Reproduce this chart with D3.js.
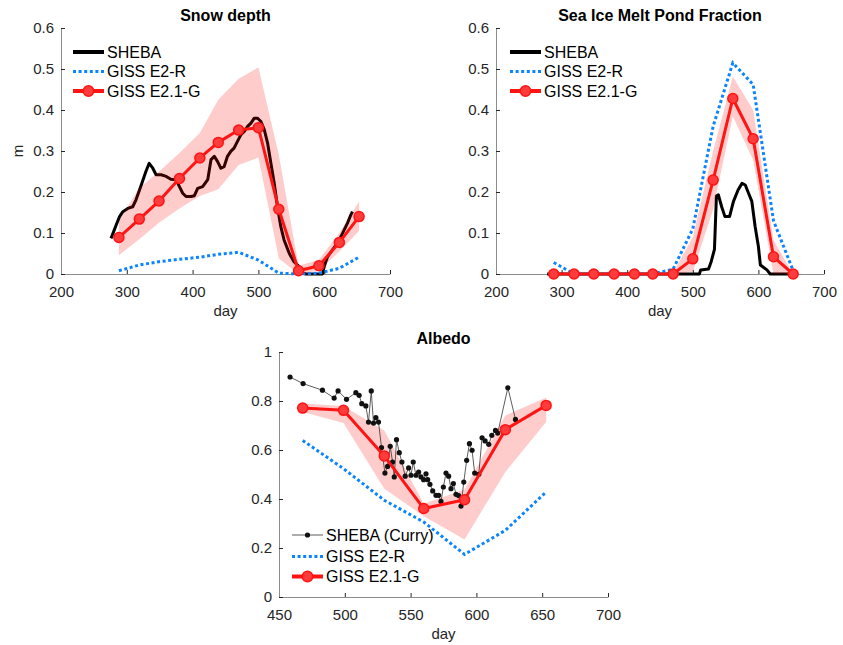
<!DOCTYPE html>
<html>
<head>
<meta charset="utf-8">
<script src="https://cdn.jsdelivr.net/npm/d3@7"></script>
<style>
  body { margin: 0; background: #fff; }
  text { font-family: "Liberation Sans", Arial, sans-serif; }
</style>
</head>
<body>
<div class="container"></div>
<script>
// model output: monthly means
var modelDays = [288, 319, 349, 380, 411, 439, 470, 500, 531, 561, 592, 623, 653];

var snowE21 = [0.089, 0.134, 0.178, 0.233, 0.283, 0.321, 0.351, 0.357, 0.158, 0.008, 0.020, 0.077, 0.140];
var snowE21Hi = [0.13, 0.21, 0.25, 0.295, 0.344, 0.425, 0.476, 0.504, 0.29, 0.02, 0.035, 0.10, 0.177];
var snowE21Lo = [0.046, 0.085, 0.125, 0.16, 0.19, 0.207, 0.266, 0.284, 0.038, 0, 0.008, 0.055, 0.105];
var snowE2R = [0.008, 0.022, 0.030, 0.036, 0.041, 0.048, 0.053, 0.034, 0.002, 0, 0.002, 0.014, 0.041];

var snowShebaDays = [276, 279, 284, 289, 294, 301.5, 309, 314, 322, 329, 334, 339.5, 344.5, 352, 360, 367, 375, 380, 385, 390,
  397.6, 402.7, 407.7, 415.3, 423, 428, 433, 438, 443, 448, 453, 458, 463, 468, 473.5, 478.6, 483.6, 488.7, 493.7, 498.8,
  503.8, 508.9, 514, 519, 524, 529, 534, 539, 547, 554, 562, 567, 572, 585, 597.4, 600, 605, 612.6, 620, 627.8, 635.4, 640.4, 643];
var snowSheba = [0.087, 0.099, 0.120, 0.140, 0.152, 0.160, 0.164, 0.181, 0.217, 0.250, 0.270, 0.258, 0.242, 0.242, 0.238, 0.231, 0.230, 0.213, 0.197, 0.189,
  0.189, 0.191, 0.209, 0.213, 0.230, 0.279, 0.287, 0.274, 0.258, 0.262, 0.287, 0.299, 0.307, 0.323, 0.340, 0.348, 0.360, 0.368, 0.380, 0.380,
  0.372, 0.352, 0.319, 0.270, 0.222, 0.164, 0.116, 0.083, 0.050, 0.030, 0.018, 0.003, 0, 0, 0, 0.018, 0.042, 0.059, 0.075, 0.099, 0.124, 0.144, 0.152];

var pondE21 = [0, 0, 0, 0, 0, 0, 0, 0.037, 0.229, 0.428, 0.330, 0.042, 0];
var pondE21Hi = [0, 0, 0, 0, 0, 0, 0.003, 0.09, 0.30, 0.482, 0.40, 0.083, 0];
var pondE21Lo = [0, 0, 0, 0, 0, 0, 0, 0.005, 0.158, 0.384, 0.278, 0, 0];
var pondE2R = [0.028, 0, 0, 0, 0, 0, 0.012, 0.11, 0.36, 0.515, 0.462, 0.13, 0.008];

var pondShebaDays = [278, 510, 512, 524, 528, 533, 536, 539, 544, 549, 556, 562, 569, 575, 580, 585, 590, 595, 600, 603, 608, 613, 618, 648];
var pondSheba = [0, 0, 0.01, 0.012, 0.03, 0.06, 0.19, 0.193, 0.164, 0.14, 0.14, 0.177, 0.205, 0.221, 0.217, 0.197, 0.177, 0.116, 0.067, 0.022, 0.016, 0.01, 0, 0];

var albDays = [468, 499, 530, 560, 591, 622, 653];
var albE21 = [0.771, 0.762, 0.576, 0.361, 0.397, 0.683, 0.782];
var albE21Hi = [0.79, 0.78, 0.68, 0.381, 0.439, 0.741, 0.814];
var albE21Lo = [0.755, 0.71, 0.442, 0.33, 0.235, 0.51, 0.714];
var albE2R = [0.639, 0.524, 0.395, 0.306, 0.174, 0.272, 0.429];

var albCurryDays = [458.4, 468.3, 483.0, 491.9, 494.9, 501.3, 508.4, 510.9, 512.9, 516.0, 518.0, 520.1, 521.8, 523.6, 525.6, 527.9,
  530.5, 532.5, 534.5, 536.3, 537.6, 539.3, 541.4, 543.4, 545.9, 548.5, 550.3, 552.0, 554.1, 556.1, 557.9, 559.9, 561.7, 563.0,
  564.7, 566.8, 569.3, 571.3, 573.1, 574.9, 576.9, 578.9, 580.7, 582.5, 584.5, 586.5, 588.3, 590.4, 592.6, 594.7, 596.7, 598.7,
  601.8, 604.3, 606.6, 609.4, 611.7, 614.5, 616.2, 623.9, 629.7];
var albCurry = [0.898, 0.871, 0.844, 0.812, 0.841, 0.807, 0.834, 0.823, 0.789, 0.780, 0.714, 0.841, 0.710, 0.732, 0.714, 0.610,
  0.506, 0.533, 0.615, 0.551, 0.490, 0.642, 0.589, 0.551, 0.493, 0.527, 0.497, 0.551, 0.497, 0.510, 0.490, 0.479, 0.503, 0.479,
  0.460, 0.433, 0.415, 0.415, 0.390, 0.449, 0.506, 0.493, 0.442, 0.463, 0.419, 0.414, 0.371, 0.469, 0.558, 0.626, 0.599, 0.506,
  0.501, 0.650, 0.637, 0.623, 0.660, 0.680, 0.669, 0.854, 0.725];

var topXTicks = [200, 300, 400, 500, 600, 700];
var topYTicks = [0, 0.1, 0.2, 0.3, 0.4, 0.5, 0.6];
var albXTicks = [450, 500, 550, 600, 650, 700];
var albYTicks = [0, 0.2, 0.4, 0.6, 0.8, 1];

var RED = '#ff1414', BLUE = '#0a84ff', INK = '#262626';

var svg = d3.select('.container').append('svg')
            .attr('width', 843)
            .attr('height', 645);

function panel(o) {
  var x = d3.scaleLinear().domain(o.xDomain).range([o.left, o.right]);
  var y = d3.scaleLinear().domain(o.yDomain).range([o.bottom, o.top]);
  var g = svg.append('g');

  var ax = g.append('g').attr('transform', 'translate(0,' + o.bottom + ')')
            .call(d3.axisBottom(x).tickValues(o.xTicks).tickSizeInner(-4).tickSizeOuter(0).tickPadding(12.5));
  var ay = g.append('g').attr('transform', 'translate(' + o.left + ',0)')
            .call(d3.axisLeft(y).tickValues(o.yTicks).tickFormat(d3.format('~g')).tickSizeInner(-4).tickSizeOuter(0).tickPadding(7));
  [ax, ay].forEach(function(a) {
    a.attr('font-family', null).attr('font-size', 15);
    a.select('.domain').attr('stroke', '#8c8c8c');
    a.selectAll('.tick line').attr('stroke', INK);
    a.selectAll('.tick text').attr('fill', INK);
  });

  g.append('text').attr('x', (o.left + o.right) / 2).attr('y', o.top - o.titleGap)
   .attr('text-anchor', 'middle').attr('font-weight', 'bold').attr('font-size', 16)
   .attr('fill', '#000').text(o.title);
  g.append('text').attr('x', (o.left + o.right) / 2).attr('y', o.bottom + 42)
   .attr('text-anchor', 'middle').attr('font-size', 15).attr('fill', INK).text('day');

  return {g: g, x: x, y: y};
}

function line(p, xs, ys) {
  return d3.line().x(function(d){ return p.x(d[0]); }).y(function(d){ return p.y(d[1]); })(d3.zip(xs, ys));
}

function band(p, xs, lo, hi) {
  p.g.append('path')
     .attr('d', d3.area().x(function(d){ return p.x(d[0]); })
                 .y0(function(d){ return p.y(d[1]); })
                 .y1(function(d){ return p.y(d[2]); })(d3.zip(xs, lo, hi)))
     .attr('fill', '#ff0000').attr('fill-opacity', 0.2);
}

function blue(p, xs, ys) {
  p.g.append('path').attr('d', line(p, xs, ys))
     .attr('fill', 'none').attr('stroke', BLUE).attr('stroke-width', 3).attr('stroke-dasharray', '3,2.6');
}

function red(p, xs, ys) {
  p.g.append('path').attr('d', line(p, xs, ys))
     .attr('fill', 'none').attr('stroke', RED).attr('stroke-width', 3).attr('stroke-linejoin', 'round');
  p.g.selectAll('.mk').data(d3.zip(xs, ys)).enter().append('circle')
     .attr('cx', function(d){ return p.x(d[0]); })
     .attr('cy', function(d){ return p.y(d[1]); })
     .attr('r', 5).attr('fill', '#ff3b3b').attr('stroke', RED).attr('stroke-width', 1.5);
}

function legend(p, lx, rows, items) {
  items.forEach(function(it, i) {
    var yy = rows[i];
    if (it.kind === 'sheba') {
      p.g.append('line').attr('x1', lx).attr('x2', lx + 31).attr('y1', yy).attr('y2', yy)
         .attr('stroke', '#000').attr('stroke-width', 4);
    } else if (it.kind === 'curry') {
      p.g.append('line').attr('x1', lx).attr('x2', lx + 31).attr('y1', yy).attr('y2', yy)
         .attr('stroke', '#333').attr('stroke-width', 0.8);
      p.g.append('circle').attr('cx', lx + 15.5).attr('cy', yy).attr('r', 2.6).attr('fill', '#111');
    } else if (it.kind === 'e2r') {
      p.g.append('line').attr('x1', lx).attr('x2', lx + 31).attr('y1', yy).attr('y2', yy)
         .attr('stroke', BLUE).attr('stroke-width', 3).attr('stroke-dasharray', '3,2.6');
    } else {
      p.g.append('line').attr('x1', lx).attr('x2', lx + 31).attr('y1', yy).attr('y2', yy)
         .attr('stroke', RED).attr('stroke-width', 4);
      p.g.append('circle').attr('cx', lx + 15.5).attr('cy', yy).attr('r', 5.2)
         .attr('fill', '#ff3b3b').attr('stroke', RED).attr('stroke-width', 1.5);
    }
    p.g.append('text').attr('x', lx + 34).attr('y', yy).attr('dy', '0.36em')
       .attr('font-size', 16).attr('fill', '#000').text(it.label);
  });
}

// Snow depth
var p1 = panel({left: 61, right: 390, top: 28, bottom: 274, xDomain: [200, 700], yDomain: [0, 0.6],
                xTicks: topXTicks, yTicks: topYTicks, title: 'Snow depth', titleGap: 7});
p1.g.append('text').attr('transform', 'translate(23,151) rotate(-90)')
    .attr('text-anchor', 'middle').attr('font-size', 15).attr('fill', INK).text('m');
p1.g.append('path').attr('d', line(p1, snowShebaDays, snowSheba))
    .attr('fill', 'none').attr('stroke', '#000').attr('stroke-width', 3).attr('stroke-linejoin', 'round');
blue(p1, modelDays, snowE2R);
band(p1, modelDays, snowE21Lo, snowE21Hi);
red(p1, modelDays, snowE21);
legend(p1, 73, [52, 71.5, 91], [
  {kind: 'sheba', label: 'SHEBA'}, {kind: 'e2r', label: 'GISS E2-R'}, {kind: 'e21', label: 'GISS E2.1-G'}]);

// Melt pond fraction
var p2 = panel({left: 496, right: 824, top: 28, bottom: 274, xDomain: [200, 700], yDomain: [0, 0.6],
                xTicks: topXTicks, yTicks: topYTicks, title: 'Sea Ice Melt Pond Fraction', titleGap: 7});
p2.g.append('path').attr('d', line(p2, pondShebaDays, pondSheba))
    .attr('fill', 'none').attr('stroke', '#000').attr('stroke-width', 3).attr('stroke-linejoin', 'round');
blue(p2, modelDays, pondE2R);
band(p2, modelDays, pondE21Lo, pondE21Hi);
red(p2, modelDays, pondE21);
legend(p2, 510, [52, 71.5, 91], [
  {kind: 'sheba', label: 'SHEBA'}, {kind: 'e2r', label: 'GISS E2-R'}, {kind: 'e21', label: 'GISS E2.1-G'}]);

// Albedo
var p3 = panel({left: 279, right: 608, top: 352, bottom: 597, xDomain: [450, 700], yDomain: [0, 1],
                xTicks: albXTicks, yTicks: albYTicks, title: 'Albedo', titleGap: 8});
band(p3, albDays, albE21Lo, albE21Hi);
blue(p3, albDays, albE2R);
p3.g.append('path').attr('d', line(p3, albCurryDays, albCurry))
    .attr('fill', 'none').attr('stroke', '#333').attr('stroke-width', 0.8);
p3.g.selectAll('.dot').data(d3.zip(albCurryDays, albCurry)).enter().append('circle')
    .attr('cx', function(d){ return p3.x(d[0]); })
    .attr('cy', function(d){ return p3.y(d[1]); })
    .attr('r', 2.6).attr('fill', '#111');
red(p3, albDays, albE21);
legend(p3, 292, [535, 556.5, 576.5], [
  {kind: 'curry', label: 'SHEBA (Curry)'}, {kind: 'e2r', label: 'GISS E2-R'}, {kind: 'e21', label: 'GISS E2.1-G'}]);
</script>
</body>
</html>
